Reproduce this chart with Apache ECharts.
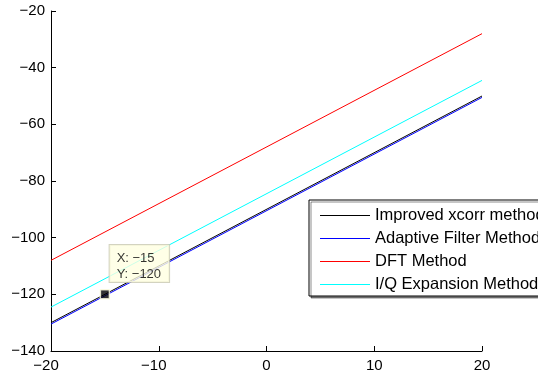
<!DOCTYPE html>
<html>
<head>
<meta charset="utf-8">
<script src="https://cdn.jsdelivr.net/npm/echarts@6/dist/echarts.min.js"></script>
<style>
  html, body { margin: 0; padding: 0; background: #fff; }
  #chart { width: 538px; height: 376px; }
</style>
</head>
<body>
<div id="chart"></div>
<script>
// Endpoints of each straight line (x in the first array)
const xValues = [-20, 20];
const improvedXcorr = [-130, -50];
const adaptiveFilter = [-130.5, -50.5];
const dftMethod = [-108, -28];
const iqExpansion = [-124.5, -44.5];

const seriesNames = ['Improved xcorr method', 'Adaptive Filter Method', 'DFT Method', 'I/Q Expansion Method'];
const seriesColors = ['#000000', '#0000ff', '#ff0000', '#00ffff'];
const seriesValues = [improvedXcorr, adaptiveFilter, dftMethod, iqExpansion];

// Highlighted point with its data tip
const tipPoint = [-15, -120];

const xTicks = { min: -20, max: 20, step: 10 };
const yTicks = { min: -140, max: -20, step: 20 };

const FONT = '"Liberation Sans", Arial, Helvetica, sans-serif';
const minus = v => String(v).replace('-', '\u2212');

const chart = echarts.init(document.getElementById('chart'), null, { renderer: 'canvas' });

const lineSeries = seriesValues.map((vals, i) => ({
  name: seriesNames[i],
  type: 'line',
  color: seriesColors[i],
  data: xValues.map((x, j) => [x, vals[j]]),
  symbol: 'none',
  lineStyle: { color: seriesColors[i], width: 1 },
  itemStyle: { color: seriesColors[i] },
  silent: true,
  animation: false,
  z: 2
}));

const axisCommon = {
  type: 'value',
  axisLine: { show: true, onZero: false, lineStyle: { color: '#000', width: 1 } },
  axisTick: { show: true, inside: true, length: 5, lineStyle: { color: '#000', width: 1 } },
  splitLine: { show: false },
  axisLabel: { color: '#000', fontSize: 15, fontFamily: FONT, formatter: minus }
};

chart.setOption({
  animation: false,
  backgroundColor: '#ffffff',
  grid: { left: 51, right: 56, top: 11, bottom: 25, containLabel: false },
  xAxis: Object.assign({}, axisCommon, {
    min: xTicks.min, max: xTicks.max, interval: xTicks.step,
    axisLabel: Object.assign({}, axisCommon.axisLabel, {
      margin: 7,
      // negative labels keep their digits centred on the tick, the sign hangs left
      formatter: v => v < 0 ? '{neg|' + minus(v) + '}' : String(v),
      rich: { neg: { fontSize: 15, fontFamily: FONT, color: '#000', padding: [0, 10, 0, 0] } }
    })
  }),
  yAxis: Object.assign({}, axisCommon, {
    min: yTicks.min, max: yTicks.max, interval: yTicks.step,
    axisLabel: Object.assign({}, axisCommon.axisLabel, { margin: 6 })
  }),
  legend: {
    orient: 'vertical',
    left: 309,
    top: 200,
    data: seriesNames.map((n, i) => ({
      name: n,
      itemStyle: { color: seriesColors[i], borderWidth: 0 },
      lineStyle: { width: 0 }
    })),
    icon: 'rect',
    itemWidth: 50,
    itemHeight: 1,
    itemGap: 5,
    padding: [6.5, 40, 2.5, 11],
    itemStyle: { borderWidth: 0 },
    lineStyle: { width: 0 },
    backgroundColor: '#ffffff',
    borderColor: '#000000',
    borderWidth: 1,
    borderRadius: 0,
    shadowColor: 'rgba(0,0,0,0.45)',
    shadowBlur: 0,
    shadowOffsetX: 2,
    shadowOffsetY: 2,
    selectedMode: false,
    textStyle: { color: '#000', fontSize: 16.5, fontFamily: FONT, lineHeight: 18 }
  },
  series: lineSeries.concat([{
    type: 'scatter',
    data: [tipPoint],
    symbol: 'rect',
    symbolSize: 9,
    itemStyle: { color: '#000', borderColor: '#ffffe1', borderWidth: 1.5 },
    silent: true,
    z: 5,
    label: {
      show: true,
      position: [10, -44],
      align: 'left',
      verticalAlign: 'top',
      formatter: p => 'X: ' + minus(p.value[0]) + '\nY: ' + minus(p.value[1]),
      color: '#000',
      fontSize: 13,
      fontFamily: FONT,
      lineHeight: 15.5,
      backgroundColor: '#ffffe1',
      borderColor: '#c8c8b0',
      borderWidth: 1,
      padding: [6, 8, 0, 7]
    }
  }])
});
</script>
</body>
</html>
